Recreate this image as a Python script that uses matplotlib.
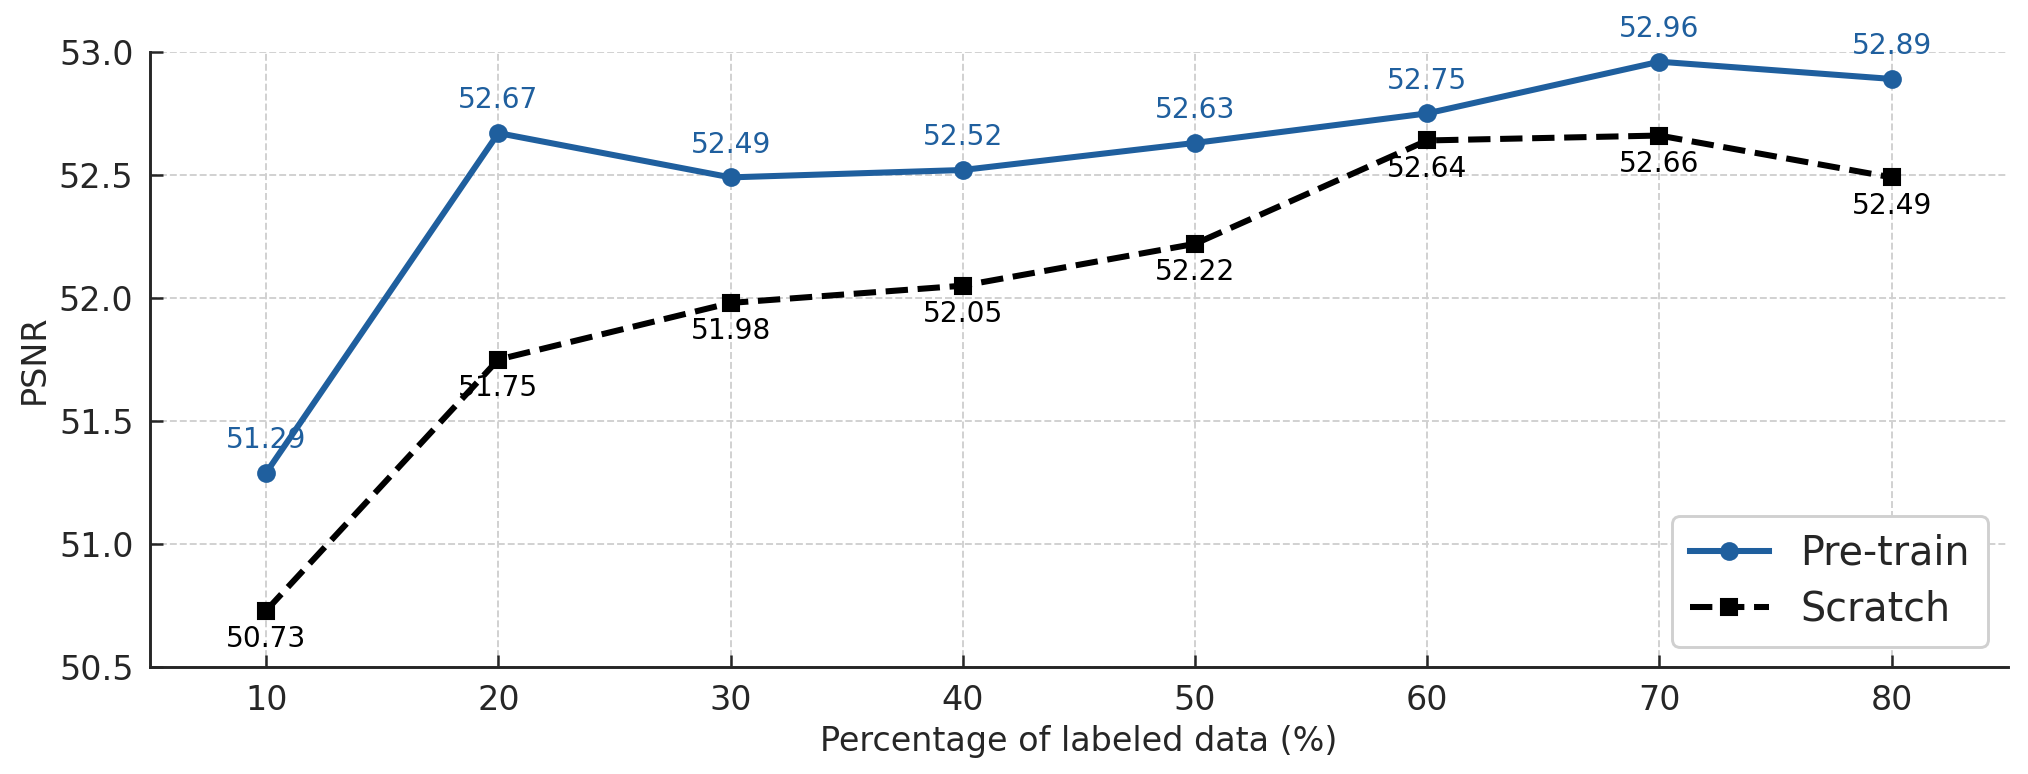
import matplotlib
matplotlib.use('Agg')
import matplotlib.pyplot as plt
import numpy as np

pct = [10, 20, 30, 40, 50, 60, 70, 80]
pretrain = [51.29, 52.67, 52.49, 52.52, 52.63, 52.75, 52.96, 52.89]
scratch = [50.73, 51.75, 51.98, 52.05, 52.22, 52.64, 52.66, 52.49]

blue = '#1f5f9e'
txt = '#262626'

fig, ax = plt.subplots(figsize=(13.52, 5.16), dpi=150)
fig.subplots_adjust(left=0.074, right=0.99, top=0.933, bottom=0.138)

ax.plot(pct, pretrain, '-o', color=blue, lw=2.9, ms=8, label='Pre-train')
ax.plot(pct, scratch, '--s', color='black', lw=2.9, ms=8, label='Scratch')

for x, y in zip(pct, pretrain):
  ax.annotate('%.2f' % y, (x, y), xytext=(0, 9), textcoords='offset points',
              ha='center', va='bottom', fontsize=13.5, color=blue)
for x, y in zip(pct, scratch):
  ax.annotate('%.2f' % y, (x, y), xytext=(0, -7), textcoords='offset points',
              ha='center', va='top', fontsize=13.5, color='black')

ax.set_xlim(5, 85)
ax.set_ylim(50.5, 53.0)
ax.set_xticks(pct)
ax.set_yticks(np.arange(50.5, 53.01, 0.5))
ax.grid(True, ls='--', color='#d0d0d0', lw=0.9)
ax.set_axisbelow(True)

for s in ['top', 'right']:
  ax.spines[s].set_visible(False)
for s in ['left', 'bottom']:
  ax.spines[s].set_linewidth(1.4)
  ax.spines[s].set_color(txt)

ax.tick_params(direction='in', length=6, width=1.2, labelsize=16, colors=txt, pad=8)
ax.set_xlabel('Percentage of labeled data (%)', fontsize=16, color=txt)
ax.set_ylabel('PSNR', fontsize=16, color=txt)

leg = ax.legend(loc='lower right', fontsize=19, frameon=True, fancybox=True,
                edgecolor='#d0d0d0', framealpha=1, borderpad=0.45, handlelength=2.0,
                labelspacing=0.4)
leg.get_frame().set_linewidth(1.4)
for t in leg.get_texts():
  t.set_color(txt)

plt.savefig('out.png', dpi=150)
